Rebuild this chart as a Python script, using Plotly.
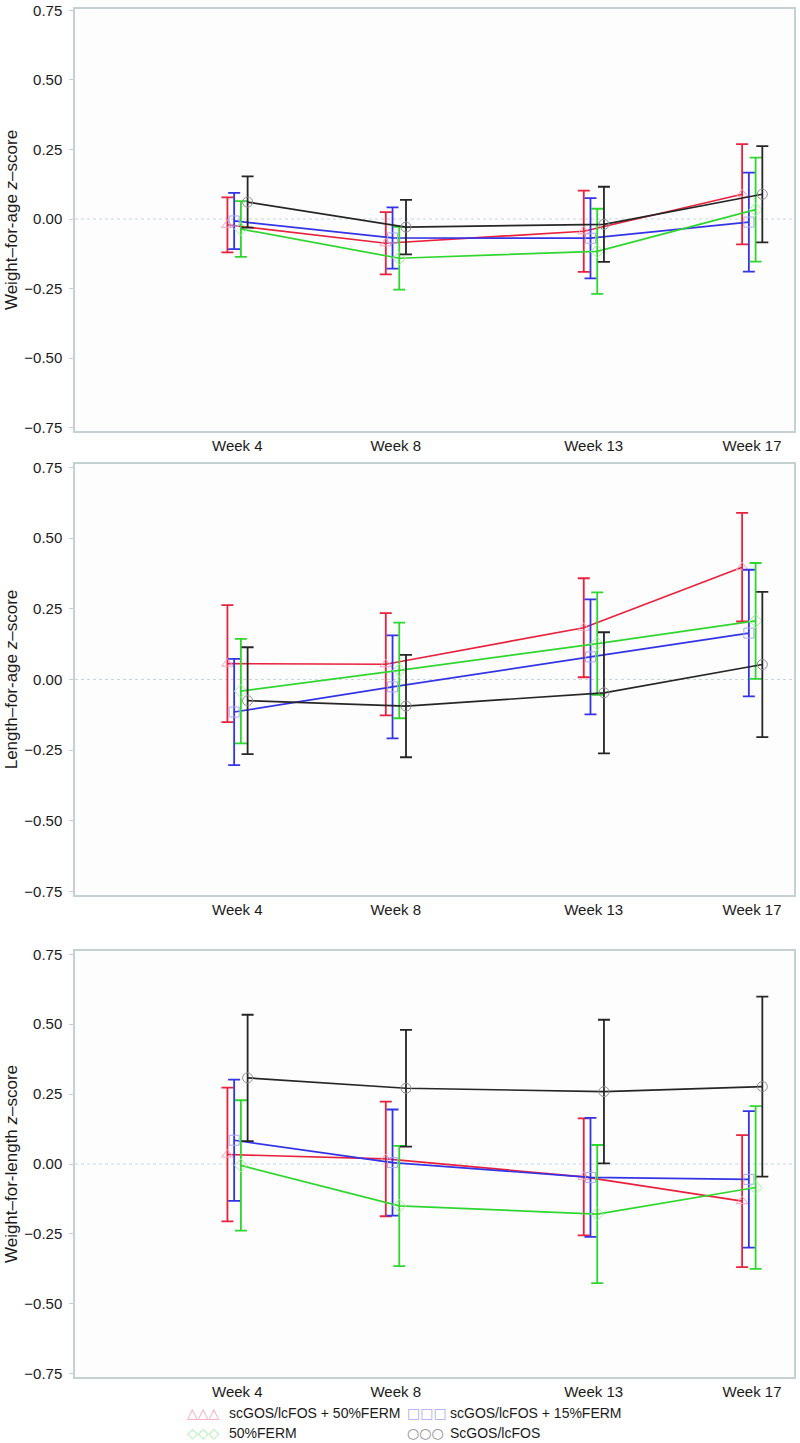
import plotly.graph_objects as go

# ---------------- data ----------------
weeks = [4, 8, 13, 17]
week_labels = ["Week 4", "Week 8", "Week 13", "Week 17"]
groups = ["scGOS/lcFOS + 50%FERM", "scGOS/lcFOS + 15%FERM", "50%FERM", "ScGOS/lcFOS"]
panel_titles = ["Weight–for-age <i>z</i>–score",
                "Length–for-age <i>z</i>–score",
                "Weight–for-length <i>z</i>–score"]
y_ticks = [-0.75, -0.50, -0.25, 0.00, 0.25, 0.50, 0.75]

# Weight-for-age (mean, error half-width)
waz_50ferm_gos = [-0.021, -0.087, -0.044, 0.089]
waz_50ferm_gos_err = [0.099, 0.112, 0.146, 0.180]
waz_15ferm_gos = [-0.007, -0.068, -0.069, -0.011]
waz_15ferm_gos_err = [0.101, 0.110, 0.144, 0.178]
waz_50ferm = [-0.036, -0.141, -0.116, 0.034]
waz_50ferm_err = [0.100, 0.113, 0.153, 0.187]
waz_gos = [0.061, -0.029, -0.019, 0.089]
waz_gos_err = [0.092, 0.098, 0.135, 0.173]

# Length-for-age
laz_50ferm_gos = [0.056, 0.054, 0.183, 0.397]
laz_50ferm_gos_err = [0.207, 0.181, 0.175, 0.192]
laz_15ferm_gos = [-0.115, -0.026, 0.080, 0.164]
laz_15ferm_gos_err = [0.188, 0.182, 0.203, 0.224]
laz_50ferm = [-0.041, 0.032, 0.127, 0.207]
laz_50ferm_err = [0.185, 0.169, 0.181, 0.205]
laz_gos = [-0.075, -0.094, -0.047, 0.053]
laz_gos_err = [0.189, 0.181, 0.214, 0.257]

# Weight-for-length
wlz_50ferm_gos = [0.034, 0.018, -0.046, -0.133]
wlz_50ferm_gos_err = [0.239, 0.205, 0.209, 0.236]
wlz_15ferm_gos = [0.085, 0.005, -0.048, -0.055]
wlz_15ferm_gos_err = [0.217, 0.190, 0.213, 0.244]
wlz_50ferm = [-0.005, -0.150, -0.179, -0.084]
wlz_50ferm_err = [0.233, 0.215, 0.247, 0.291]
wlz_gos = [0.308, 0.271, 0.259, 0.277]
wlz_gos_err = [0.226, 0.209, 0.257, 0.322]

panels = [
    [(waz_50ferm_gos, waz_50ferm_gos_err), (waz_15ferm_gos, waz_15ferm_gos_err),
     (waz_50ferm, waz_50ferm_err), (waz_gos, waz_gos_err)],
    [(laz_50ferm_gos, laz_50ferm_gos_err), (laz_15ferm_gos, laz_15ferm_gos_err),
     (laz_50ferm, laz_50ferm_err), (laz_gos, laz_gos_err)],
    [(wlz_50ferm_gos, wlz_50ferm_gos_err), (wlz_15ferm_gos, wlz_15ferm_gos_err),
     (wlz_50ferm, wlz_50ferm_err), (wlz_gos, wlz_gos_err)],
]

# ---------------- style ----------------
dodge = [-0.25, -0.08, 0.09, 0.26]
line_colors = ["#e8213c", "#3434e6", "#2fd62f", "#262626"]
marker_colors = ["#f5a3bb", "#a9a9f2", "#a4eea4", "#8c8c8c"]
symbols = ["triangle-up-open", "square-open", "diamond-open", "circle-open"]
legend_glyphs = ["△△△", "□□□", "◇◇◇", "○○○"]
frame_color = "#c3d1d1"
FONT = "Liberation Sans, Arial, sans-serif"
FS = 15

W, H = 800, 1443
x_dom = [75 / W, 794 / W]
y_doms = [[1 - 431 / H, 1 - 9 / H], [1 - 895 / H, 1 - 464 / H], [1 - 1377 / H, 1 - 951 / H]]
y_ranges = [[-0.762, 0.755], [-0.762, 0.762], [-0.762, 0.762]]

fig = go.Figure()
layout = {}
shapes = []
for p, series in enumerate(panels):
    xa = "x" if p == 0 else f"x{p + 1}"
    ya = "y" if p == 0 else f"y{p + 1}"
    for g, (mean, err) in enumerate(series):
        fig.add_trace(go.Scatter(
            x=[w + dodge[g] for w in weeks], y=mean,
            xaxis=xa, yaxis=ya, mode="lines+markers", name=groups[g],
            showlegend=False,
            line=dict(color=line_colors[g], width=1.7),
            marker=dict(symbol=symbols[g], size=10, color=marker_colors[g], line=dict(width=1)),
            error_y=dict(type="data", array=err, visible=True, color=line_colors[g],
                         thickness=1.8, width=6),
        ))
    xkey = "xaxis" if p == 0 else f"xaxis{p + 1}"
    ykey = "yaxis" if p == 0 else f"yaxis{p + 1}"
    layout[xkey] = dict(
        domain=x_dom, anchor=ya, range=[-0.1, 18.06], tickmode="array",
        tickvals=weeks, ticktext=week_labels, ticks="", showgrid=False, zeroline=False,
        showline=True, mirror=True, linecolor=frame_color, linewidth=1.5,
        tickfont=dict(family=FONT, size=FS, color="#1a1a1a"), automargin=False,
        ticklabeloverflow="allow",
    )
    layout[ykey] = dict(
        domain=y_doms[p], anchor=xa, range=y_ranges[p], tickmode="array",
        tickvals=y_ticks, tickformat=".2f", ticks="outside", ticklen=4, tickwidth=1,
        tickcolor=frame_color, showgrid=False, zeroline=False,
        showline=True, mirror=True, linecolor=frame_color, linewidth=1.5,
        tickfont=dict(family=FONT, size=FS, color="#1a1a1a"),
        title=dict(text=panel_titles[p], font=dict(family=FONT, size=17, color="#1a1a1a"),
                   standoff=2),
        ticklabelstandoff=4, automargin=False, ticklabeloverflow="allow",
    )
    shapes.append(dict(type="line", xref=f"{xa} domain", yref=ya, x0=0, x1=1, y0=0, y1=0,
                       line=dict(color="#c8d6dc", width=1, dash="dot"), layer="below"))

# legend drawn as text glyphs + labels
legend_rows = [1413 / H, 1433 / H]
annotations = []
leg_pos = [(185, 227, 0), (405, 448, 0), (185, 227, 1), (405, 448, 1)]
for g in range(4):
    gx, tx, r = leg_pos[g]
    yy = 1 - legend_rows[r]
    annotations.append(dict(xref="paper", yref="paper", x=gx / W, y=yy, xanchor="left",
                            yanchor="middle", showarrow=False, text=legend_glyphs[g],
                            font=dict(family="DejaVu Sans", size=14, color=marker_colors[g])))
    annotations.append(dict(xref="paper", yref="paper", x=tx / W, y=yy, xanchor="left",
                            yanchor="middle", showarrow=False, text=groups[g],
                            font=dict(family=FONT, size=14, color="#1a1a1a")))

fig.update_layout(
    width=W, height=H, margin=dict(l=0, r=0, t=0, b=0),
    paper_bgcolor="white", plot_bgcolor="#fdfdfd",
    showlegend=False, shapes=shapes, annotations=annotations, **layout,
)
fig.write_html("out.html", config={"displayModeBar": False},
               post_script="document.body.style.margin='0px';document.body.style.overflow='hidden';")
